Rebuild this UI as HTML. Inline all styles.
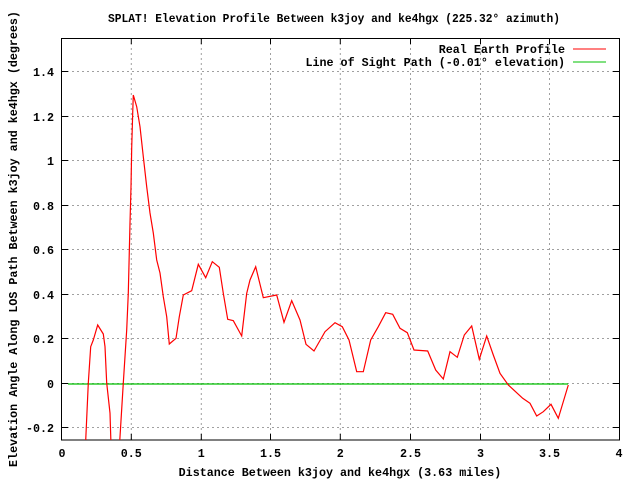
<!DOCTYPE html>
<html><head><style>body{margin:0;background:#fff}svg text{font-family:"Liberation Mono",monospace;font-size:11.7px;font-weight:bold;fill:#000}</style></head><body>
<svg width="640" height="480" viewBox="0 0 640 480" xmlns="http://www.w3.org/2000/svg">
<rect width="640" height="480" fill="#fff"/>
<g stroke="#a0a0a0" stroke-dasharray="2,3" stroke-width="1">
<line x1="131.3" y1="38" x2="131.3" y2="440"/><line x1="201.3" y1="38" x2="201.3" y2="440"/><line x1="270.5" y1="38" x2="270.5" y2="440"/><line x1="340.3" y1="38" x2="340.3" y2="440"/><line x1="410.5" y1="38" x2="410.5" y2="440"/><line x1="480.5" y1="38" x2="480.5" y2="440"/><line x1="549.5" y1="38" x2="549.5" y2="440"/>
<line x1="62" y1="71.5" x2="619" y2="71.5"/><line x1="62" y1="116.5" x2="619" y2="116.5"/><line x1="62" y1="160.5" x2="619" y2="160.5"/><line x1="62" y1="205.5" x2="619" y2="205.5"/><line x1="62" y1="249.5" x2="619" y2="249.5"/><line x1="62" y1="294.5" x2="619" y2="294.5"/><line x1="62" y1="338.5" x2="619" y2="338.5"/><line x1="62" y1="383.5" x2="619" y2="383.5"/><line x1="62" y1="427.5" x2="619" y2="427.5"/>
</g>
<g stroke="#000" stroke-width="1">
<path d="M131.3 440v-6M201.3 440v-6M270.5 440v-6M340.3 440v-6M410.5 440v-6M480.5 440v-6M549.5 440v-6M131.3 38v6M201.3 38v6M270.5 38v6M340.3 38v6M410.5 38v6M480.5 38v6M549.5 38v6"/>
<path d="M62 71.5h6M62 116.5h6M62 160.5h6M62 205.5h6M62 249.5h6M62 294.5h6M62 338.5h6M62 383.5h6M62 427.5h6M619 71.5h-6M619 116.5h-6M619 160.5h-6M619 205.5h-6M619 249.5h-6M619 294.5h-6M619 338.5h-6M619 383.5h-6M619 427.5h-6"/>
</g>
<rect x="61.5" y="38.5" width="558" height="401.5" fill="none" stroke="#000" stroke-width="1"/>
<svg x="62" y="38" width="557" height="402" overflow="hidden">
<g transform="translate(-62,-38)">
<line x1="68" y1="384" x2="568" y2="384" stroke="#00c000" stroke-width="1.2"/>
<polyline fill="none" stroke="#f00" stroke-width="1.2" points="85.5,445 88.3,383 90.7,346.7 93.3,340 97.7,325 103.3,334 105,346.7 106.7,383 110,413 111,445"/>
<polyline fill="none" stroke="#f00" stroke-width="1.2" points="119.5,445 123.3,383 126.7,330 128.3,293 130,223 131,187 131.7,148 132.7,113 133.3,95 136.7,106.7 140,126.7 143.3,156.7 146.7,186.7 150,213 153.3,233 156.7,260 160,273 163.3,296.7 166.7,316.7 169.3,344 176,338.3 179.3,316.7 183.3,295 191.7,290.7 198.3,264.3 205.7,277.7 212.3,261.7 219.3,267.3 223.3,293.3 227.7,319.3 233.3,320.7 241.7,336 246.7,293.3 250,280 255.7,266.7 263.3,297.7 276.7,295 284,322.3 291.7,300.7 300,320 306,344.3 314,351 325,331.7 335,322.7 342.3,326.7 349,340 356.7,371.7 363.3,371.7 370.7,340 378.3,326.7 385.7,312.7 392.7,314.3 400,328.3 407.3,332.7 414,350 427.7,351 435.7,370 443.3,379 450,351.7 457.3,357.3 464.3,335 471.7,326 479.3,359.3 486.7,336 493.3,355 500,373.3 508.3,385 522.7,398.3 530,403.3 536.7,416 543.3,411.7 551,404.3 558.3,418.3 568.3,385"/>
</g></svg>
<text x="334" y="22" text-anchor="middle" textLength="452" lengthAdjust="spacingAndGlyphs">SPLAT! Elevation Profile Between k3joy and ke4hgx (225.32° azimuth)</text>
<text x="565" y="53" text-anchor="end">Real Earth Profile</text>
<line x1="573" y1="49" x2="606" y2="49" stroke="#f00" stroke-width="1"/>
<text x="565" y="66" text-anchor="end">Line of Sight Path (-0.01° elevation)</text>
<line x1="573" y1="62" x2="606" y2="62" stroke="#00c000" stroke-width="1"/>
<g text-anchor="end">
<text x="54" y="76">1.4</text><text x="54" y="121">1.2</text><text x="54" y="165">1</text><text x="54" y="210">0.8</text><text x="54" y="254">0.6</text><text x="54" y="299">0.4</text><text x="54" y="343">0.2</text><text x="54" y="388">0</text><text x="54" y="432">-0.2</text>
</g>
<g text-anchor="middle">
<text x="62" y="457">0</text><text x="131.3" y="457">0.5</text><text x="201.3" y="457">1</text><text x="270.5" y="457">1.5</text><text x="340.3" y="457">2</text><text x="410.5" y="457">2.5</text><text x="480.5" y="457">3</text><text x="549.5" y="457">3.5</text><text x="619" y="457">4</text>
<text x="340" y="476">Distance Between k3joy and ke4hgx (3.63 miles)</text>
<text transform="translate(17,239) rotate(-90)">Elevation Angle Along LOS Path Between k3joy and ke4hgx (degrees)</text>
</g>
</svg>
</body></html>
